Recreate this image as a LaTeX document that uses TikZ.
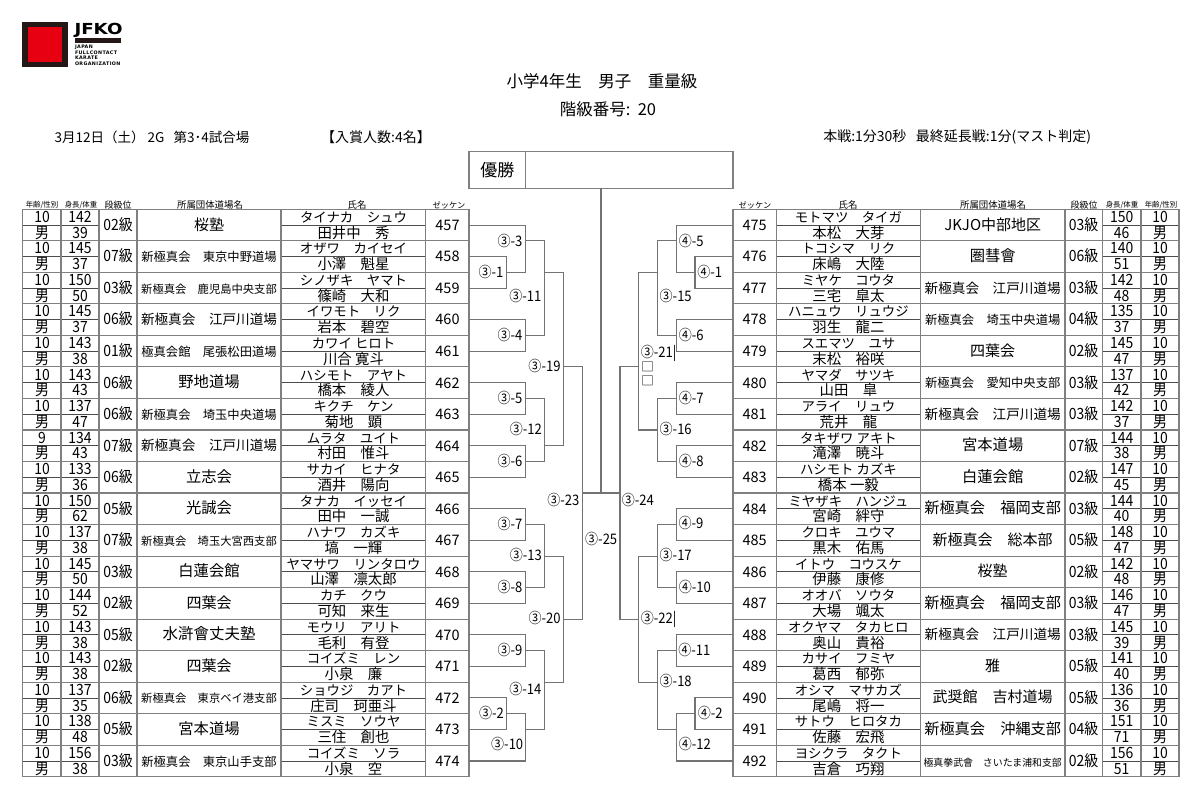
\documentclass[tikz,border=0pt]{standalone}
\usepackage{fontspec}
\setmainfont{Noto Sans CJK JP}
\newfontfamily\narrowf[FakeStretch=0.9]{Noto Sans CJK JP}
\newfontface\logof[LetterSpace=8]{DejaVu Sans Bold}
\newfontface\logobf[FakeStretch=1.2]{DejaVu Sans Bold}
\definecolor{linegray}{gray}{0.5}
\definecolor{halfgray}{gray}{0.3}
\definecolor{brgray}{gray}{0.45}
\definecolor{logored}{HTML}{E60012}
\definecolor{logoblk}{HTML}{231815}
\newcommand\fs[1]{\fontsize{#1}{#1}\selectfont}
\newcount\rowno
\tikzset{
  cellbase/.style={inner sep=0pt,outer sep=0pt,anchor=center,text height=11pt,text depth=1.5pt},
  digit/.style={cellbase,font=\narrowf\fs{15.5}},
  grade/.style={cellbase,font=\narrowf\fs{15.5}},
  kanacell/.style={cellbase,font=\fs{13.4}},
  kanjicell/.style={cellbase,font=\fs{14.4}},
  seat/.style={cellbase,font=\fs{14.5}},
  head/.style={inner sep=0pt,outer sep=0pt,anchor=center},
  tl/.style={draw=linegray,line width=1.3pt},
  hl/.style={draw=halfgray,line width=0.8pt},
  br/.style={draw=brgray,line width=1.1pt,line join=miter},
  lab/.style={inner sep=0pt,outer sep=0pt,anchor=center,font=\narrowf\fs{14.5}},
  smallbox/.style={inner sep=0pt,outer sep=0pt,anchor=center,font=\fs{12.5}},
}
% age, height, weight, grade, club size, club, kana, kanji, seat
\newcommand\Lrow[9]{%
  \global\advance\rowno by 1
  \pgfmathsetmacro\yc{209.3+31.524*(\the\rowno-0.5)}%
  \node[digit] (La\the\rowno) at (42,\yc-7.4) {#1};
  \node[digit] (Ls\the\rowno) at (42,\yc+8.4) {男};
  \node[digit] (Lh\the\rowno) at (80,\yc-7.4) {#2};
  \node[digit] (Lw\the\rowno) at (80,\yc+8.4) {#3};
  \node[grade] (Lg\the\rowno) at (118,\yc+0.6) {#4};
  \node[cellbase,font=\fs{#5}] (Lc\the\rowno) at (209,\yc+0.3) {#6};
  \node[kanacell] (Lk\the\rowno) at (353.5,\yc-7.4) {#7};
  \node[kanjicell] (Lj\the\rowno) at (353.5,\yc+8.4) {#8};
  \node[seat] (Lz\the\rowno) at (447.5,\yc+0.6) {#9};
}
\newcommand\Rrow[9]{%
  \global\advance\rowno by 1
  \pgfmathsetmacro\yc{209.3+31.524*(\the\rowno-0.5)}%
  \node[digit] (Ra\the\rowno) at (1160,\yc-7.4) {#1};
  \node[digit] (Rs\the\rowno) at (1160,\yc+8.4) {男};
  \node[digit] (Rh\the\rowno) at (1121.7,\yc-7.4) {#2};
  \node[digit] (Rw\the\rowno) at (1121.7,\yc+8.4) {#3};
  \node[grade] (Rg\the\rowno) at (1083.7,\yc+0.6) {#4};
  \node[cellbase,font=\fs{#5}] (Rc\the\rowno) at (992.7,\yc+0.3) {#6};
  \node[kanacell] (Rk\the\rowno) at (848.4,\yc-7.4) {#7};
  \node[kanjicell] (Rj\the\rowno) at (848.4,\yc+8.4) {#8};
  \node[seat] (Rz\the\rowno) at (754.7,\yc+0.6) {#9};
}
% U-shaped bracket: from column #1 at level #2 to column #3, along to level #4, back to column #5
\newcommand\brk[5]{\draw[br] (#1 |- k#2) -- (#3 |- k#2) -- (#3 |- k#4) -- (#5 |- k#4);}
\newcommand\lbl[4]{\node[lab] (#1) at (#2,#3) {#4};}
\begin{document}
\begin{tikzpicture}[x=1pt,y=-1pt]
\useasboundingbox (0,0) rectangle (1200,787);
% grid coordinates
\foreach \k in {0,...,36} {\coordinate (k\k) at (0,{209.3+15.762*\k});}
\foreach \n/\v in {LA/469,LB/506.7,LC/525.7,LD/544.3,LE/563.3,LF/582.3,CC/601,RF/620,RE/638.7,RD/657.3,RC/676.3,RB/695,RA/733} {\coordinate (\n) at (\v,0);}
% logo
\fill[logoblk] (21.8,21.7) rectangle (68,66.7);
\fill[logored] (28,26.7) rectangle (62.4,61.7);
\node[head,anchor=west,font=\logobf\fs{15.2}] (logoa) at (74.5,30.5) {JFKO};
\fill[logoblk] (75,37.7) rectangle (121,42.7);
\node[head,anchor=west,font=\logof\fs{4.8}] (logob) at (75,47) {JAPAN};
\node[head,anchor=west,font=\logof\fs{4.8}] (logoc) at (75,52.5) {FULLCONTACT};
\node[head,anchor=west,font=\logof\fs{4.8}] (logod) at (75,58) {KARATE};
\node[head,anchor=west,font=\logof\fs{4.8}] (logoe) at (75,63.5) {ORGANIZATION};
% titles
\node[head,font=\fs{16.5}] (t1) at (602,81) {小学4年生　男子　重量級};
\node[head,font=\fs{16.5}] (t2) at (608,109) {階級番号:\ \ 20};
\node[head,anchor=west,font=\fs{13.5}] (t3) at (54.7,137) {3月12日（土）\ 2G\ \ \ 第3･4試合場};
\node[head,anchor=center,font=\fs{14}] (t4) at (376,137) {【入賞人数:4名】};
\node[head,anchor=east,font=\fs{14}] (t5) at (1091,137) {本戦:1分30秒\ \ \ 最終延長戦:1分(マスト判定)};
% winner box
\draw[tl,line width=1.1pt] (469,151.7) rectangle (733,188.3);
\draw[tl,line width=1.1pt] (525.5,151.7) -- (525.5,188.3);
\node[head,font=\fs{17}] (win) at (497.3,170) {優勝};
\coordinate (winb) at (601,188.3);
% headers
\node[head,font=\fs{7.4}] (h1) at (42,205) {年齢/性別};
\node[head,font=\fs{7.4}] (h2) at (81,205) {身長/体重};
\node[head,font=\fs{9}] (h3) at (118,205) {段級位};
\node[head,font=\fs{9.4}] (h4) at (210,205) {所属団体道場名};
\node[head,font=\fs{9.4}] (h5) at (357,205) {氏名};
\node[head,font=\fs{8.2}] (h6) at (449,205) {ゼッケン};
\node[head,font=\fs{8.2}] (h7) at (755,205) {ゼッケン};
\node[head,font=\fs{9.4}] (h8) at (848,205) {氏名};
\node[head,font=\fs{9.4}] (h9) at (993,205) {所属団体道場名};
\node[head,font=\fs{9}] (h10) at (1084,205) {段級位};
\node[head,font=\fs{7.4}] (h11) at (1122,205) {身長/体重};
\node[head,font=\fs{7.4}] (h12) at (1161,205) {年齢/性別};
% table rules
\foreach \i in {0,...,18} {
  \pgfmathtruncatemacro\kk{2*\i}
  \draw[tl,line width=1.1pt] (22.7,0 |- k\kk) -- (469,0 |- k\kk);
  \draw[tl,line width=1.1pt] (733,0 |- k\kk) -- (1179,0 |- k\kk);
}
\foreach \i in {1,...,18} {
  \pgfmathtruncatemacro\kk{2*\i-1}
  \draw[hl] (22.7,0 |- k\kk) -- (99,0 |- k\kk);
  \draw[hl] (281,0 |- k\kk) -- (425.7,0 |- k\kk);
  \draw[hl] (776.5,0 |- k\kk) -- (920.3,0 |- k\kk);
  \draw[hl] (1102.3,0 |- k\kk) -- (1179,0 |- k\kk);
}
\foreach \x in {22.7,61,99,137,281,425.7,469,733,776.5,920.3,1065,1102.3,1141,1179} {
  \draw[tl] (\x,209.3) -- (\x,776.7);
}
% left rows
\global\rowno=0
\Lrow{10}{142}{39}{02級}{15}{桜塾}{タイナカ　シュウ}{田井中　秀}{457}
\Lrow{10}{145}{37}{07級}{12.3}{新極真会　東京中野道場}{オザワ　カイセイ}{小澤　魁星}{458}
\Lrow{10}{150}{50}{03級}{11.3}{新極真会　鹿児島中央支部}{シノザキ　ヤマト}{篠崎　大和}{459}
\Lrow{10}{145}{37}{06級}{13.6}{新極真会　江戸川道場}{イワモト　リク}{岩本　碧空}{460}
\Lrow{10}{143}{38}{01級}{12.3}{極真会館　尾張松田道場}{カワイ ヒロト}{川合 寛斗}{461}
\Lrow{10}{143}{43}{06級}{15.3}{野地道場}{ハシモト　アヤト}{橋本　綾人}{462}
\Lrow{10}{137}{47}{06級}{12.3}{新極真会　埼玉中央道場}{キクチ　ケン}{菊地　顕}{463}
\Lrow{9}{134}{43}{07級}{13.6}{新極真会　江戸川道場}{ムラタ　ユイト}{村田　惟斗}{464}
\Lrow{10}{133}{36}{06級}{15.3}{立志会}{サカイ　ヒナタ}{酒井　陽向}{465}
\Lrow{10}{150}{62}{05級}{15.3}{光誠会}{タナカ　イッセイ}{田中　一誠}{466}
\Lrow{10}{137}{38}{07級}{11.3}{新極真会　埼玉大宮西支部}{ハナワ　カズキ}{塙　一輝}{467}
\Lrow{10}{145}{50}{03級}{15.3}{白蓮会館}{ヤマサワ　リンタロウ}{山澤　凛太郎}{468}
\Lrow{10}{144}{52}{02級}{15}{四葉会}{カチ　クウ}{可知　来生}{469}
\Lrow{10}{143}{38}{05級}{15.5}{水滸會丈夫塾}{モウリ　アリト}{毛利　有登}{470}
\Lrow{10}{143}{38}{02級}{15}{四葉会}{コイズミ　レン}{小泉　廉}{471}
\Lrow{10}{137}{35}{06級}{11.3}{新極真会　東京ベイ港支部}{ショウジ　カアト}{庄司　珂亜斗}{472}
\Lrow{10}{138}{48}{05級}{15.3}{宮本道場}{ミスミ　ソウヤ}{三住　創也}{473}
\Lrow{10}{156}{38}{03級}{12.3}{新極真会　東京山手支部}{コイズミ　ソラ}{小泉　空}{474}
% right rows
\global\rowno=0
\Rrow{10}{150}{46}{03級}{15}{JKJO中部地区}{モトマツ　タイガ}{本松　大芽}{475}
\Rrow{10}{140}{51}{06級}{15.3}{圏彗會}{トコシマ　リク}{床嶋　大陸}{476}
\Rrow{10}{142}{48}{03級}{13.6}{新極真会　江戸川道場}{ミヤケ　コウタ}{三宅　皐太}{477}
\Rrow{10}{135}{37}{04級}{12.3}{新極真会　埼玉中央道場}{ハニュウ　リュウジ}{羽生　龍二}{478}
\Rrow{10}{145}{47}{02級}{15}{四葉会}{スエマツ　ユサ}{末松　裕咲}{479}
\Rrow{10}{137}{42}{03級}{12.3}{新極真会　愛知中央支部}{ヤマダ　サツキ}{山田　皐}{480}
\Rrow{10}{142}{37}{03級}{13.6}{新極真会　江戸川道場}{アライ　リュウ}{荒井　龍}{481}
\Rrow{10}{144}{38}{07級}{15.3}{宮本道場}{タキザワ アキト}{滝澤　暁斗}{482}
\Rrow{10}{147}{45}{02級}{15.3}{白蓮会館}{ハシモト カズキ}{橋本 一毅}{483}
\Rrow{10}{144}{40}{03級}{15.2}{新極真会　福岡支部}{ミヤザキ　ハンジュ}{宮崎　絆守}{484}
\Rrow{10}{148}{47}{05級}{15}{新極真会　総本部}{クロキ　ユウマ}{黒木　佑馬}{485}
\Rrow{10}{142}{48}{02級}{15}{桜塾}{イトウ　コウスケ}{伊藤　康修}{486}
\Rrow{10}{146}{47}{03級}{15.2}{新極真会　福岡支部}{オオバ　ソウタ}{大場　颯太}{487}
\Rrow{10}{145}{39}{03級}{13.6}{新極真会　江戸川道場}{オクヤマ　タカヒロ}{奥山　貴裕}{488}
\Rrow{10}{141}{40}{05級}{15}{雅}{カサイ　フミヤ}{葛西　郁弥}{489}
\Rrow{10}{136}{36}{05級}{15}{武奨館　吉村道場}{オシマ　マサカズ}{尾嶋　将一}{490}
\Rrow{10}{151}{71}{04級}{15.2}{新極真会　沖縄支部}{サトウ　ヒロタカ}{佐藤　宏飛}{491}
\Rrow{10}{156}{51}{02級}{9.9}{極真拳武會　さいたま浦和支部}{ヨシクラ　タクト}{吉倉　巧翔}{492}
% left bracket
\brk{LA}{1}{LC}{4}{LB}
\brk{LA}{3}{LB}{5}{LA}
\brk{LC}{2}{LD}{8}{LC}
\brk{LA}{7}{LC}{9}{LA}
\brk{LD}{4}{LE}{15}{LD}
\brk{LA}{11}{LC}{13}{LA}
\brk{LC}{12}{LD}{16}{LC}
\brk{LA}{15}{LC}{17}{LA}
\brk{LE}{10}{LF}{26}{LE}
\brk{LA}{19}{LC}{21}{LA}
\brk{LC}{20}{LD}{24}{LC}
\brk{LA}{23}{LC}{25}{LA}
\brk{LD}{22}{LE}{30}{LD}
\brk{LA}{27}{LC}{29}{LA}
\brk{LC}{28}{LD}{33}{LC}
\brk{LA}{31}{LB}{33}{LA}
\brk{LB}{32}{LC}{35}{LA}
% right bracket
\brk{RA}{1}{RC}{4}{RB}
\brk{RA}{3}{RB}{5}{RA}
\brk{RC}{2}{RD}{8}{RC}
\brk{RA}{7}{RC}{9}{RA}
\brk{RD}{4}{RE}{14}{RD}
\brk{RA}{11}{RC}{13}{RA}
\brk{RC}{12}{RD}{16}{RC}
\brk{RA}{15}{RC}{17}{RA}
\brk{RE}{10}{RF}{26}{RE}
\brk{RA}{19}{RC}{21}{RA}
\brk{RC}{20}{RD}{24}{RC}
\brk{RA}{23}{RC}{25}{RA}
\brk{RD}{22}{RE}{30}{RD}
\brk{RA}{27}{RC}{29}{RA}
\brk{RC}{28}{RD}{33}{RC}
\brk{RA}{31}{RB}{33}{RA}
\brk{RB}{32}{RC}{35}{RA}
% final
\draw[br] (LF |- k18) -- (RF |- k18);
\draw[br] (winb) -- (CC |- k18);
% labels
\lbl{m33}{510}{240.7}{③-3}
\lbl{m31}{491}{272.3}{③-1}
\lbl{m311}{525.3}{296}{③-11}
\lbl{m34}{510}{335}{③-4}
\lbl{m319}{544.5}{366.3}{③-19}
\lbl{m35}{510}{398}{③-5}
\lbl{m312}{525.8}{429}{③-12}
\lbl{m36}{510}{461}{③-6}
\lbl{m323}{563.3}{500.3}{③-23}
\lbl{m37}{510}{523.7}{③-7}
\lbl{m313}{525.8}{555.3}{③-13}
\lbl{m38}{510}{586.7}{③-8}
\lbl{m325}{601.2}{539.3}{③-25}
\lbl{m324}{637.8}{500.3}{③-24}
\lbl{m320}{544.6}{618.3}{③-20}
\lbl{m39}{510}{649.7}{③-9}
\lbl{m314}{525.3}{689.3}{③-14}
\lbl{m32}{491.5}{712.7}{③-2}
\lbl{m310}{507.2}{744}{③-10}
\lbl{m45}{691.2}{240.7}{④-5}
\lbl{m41}{709.7}{272}{④-1}
\lbl{m315}{675.7}{296}{③-15}
\lbl{m46}{691.2}{335}{④-6}
\lbl{m321}{658.7}{353}{③-21|}
\node[smallbox] (msa) at (647.7,366.7) {□};
\node[smallbox] (msb) at (647.7,380.3) {□};
\lbl{m47}{691.2}{398}{④-7}
\lbl{m316}{675.7}{429.3}{③-16}
\lbl{m48}{691.2}{461}{④-8}
\lbl{m49}{691}{523.3}{④-9}
\lbl{m317}{675.7}{555.3}{③-17}
\lbl{m410}{694.8}{586.7}{④-10}
\lbl{m322}{658.7}{619}{③-22|}
\lbl{m411}{694.3}{650}{④-11}
\lbl{m318}{675.7}{681}{③-18}
\lbl{m42}{710.3}{712.7}{④-2}
\lbl{m412}{694.8}{744}{④-12}
\end{tikzpicture}
\end{document}
